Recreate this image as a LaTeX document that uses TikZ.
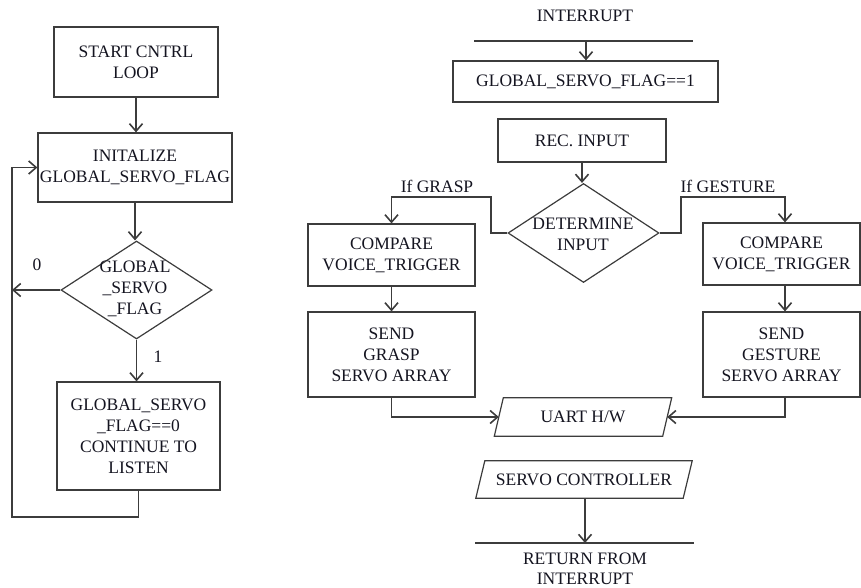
\documentclass[tikz,border=0pt]{standalone}
\usepackage{fontspec}
\setmainfont{Liberation Serif}
\usetikzlibrary{arrows.meta,shapes.geometric,calc}

\definecolor{edge}{HTML}{3C3C3C}
\definecolor{ink}{HTML}{141420}

\tikzset{
  base/.style={font=\fontsize{17.5}{21}\selectfont, text=ink, align=center, inner sep=0pt},
  stepbox/.style={base, draw=edge, line width=1.2pt, rectangle},
  decision/.style={draw=edge, line width=1.2pt, diamond, inner sep=0pt},
  iobox/.style={base, rectangle},
  lbl/.style={base},
  line/.style={draw=edge, line width=1.2pt},
  arr/.style={line, -{Straight Barb[length=7.5pt,width=13pt,line width=1.6pt]}},
}

\begin{document}
\begin{tikzpicture}[x=1pt,y=-1pt]
\useasboundingbox (0,0) rectangle (861,588);

% ---------- main control loop ----------
\node[stepbox, minimum width=164, minimum height=70] (start) at (136,62) {START CNTRL\\LOOP};
\node[stepbox, minimum width=194, minimum height=69] (init) at (135,167.5) {INITALIZE\\GLOBAL\_SERVO\_FLAG};
\node[decision, minimum width=151, minimum height=98] (d1) at (136.5,290) {};
\node[lbl] (d1t) at (135,289) {GLOBAL\\\_SERVO\\\_FLAG};
\node[stepbox, minimum width=163, minimum height=108] (cont) at (138.5,436) {GLOBAL\_SERVO\\\_FLAG==0\\CONTINUE TO\\LISTEN};
\node[lbl] (zero) at (37,265) {0};
\node[lbl] (one) at (158,357) {1};

\coordinate (lp) at (12,290);
\coordinate (lb) at (12,517);

\draw[arr] (start.south) -- (start.south |- init.north);
\draw[arr] (init.south) -- (init.south |- d1.north);
\draw[arr] (d1.south) -- (d1.south |- cont.north);
\draw[arr] (d1.west) -- (lp);
\draw[arr] (cont.south) |- (lb) |- (init.west);

% ---------- interrupt service routine ----------
\node[lbl] (intr) at (585,16) {INTERRUPT};
\coordinate (il) at (474,41);
\coordinate (ir) at (693,41);
\coordinate (ia) at (586,41);
\draw[line] (il) -- (ir);

\node[stepbox, minimum width=265, minimum height=41] (flag) at (585.5,81.5) {GLOBAL\_SERVO\_FLAG==1};
\draw[arr] (ia) -- (ia |- flag.north);

\node[stepbox, minimum width=168, minimum height=43] (rec) at (582,140.5) {REC. INPUT};
\node[decision, minimum width=151, minimum height=99] (d2) at (583.5,233) {};
\node[lbl] (d2t) at (583,234) {DETERMINE\\INPUT};
\draw[arr] (rec.south) -- (rec.south |- d2.north);

\node[stepbox, minimum width=167, minimum height=62] (cmpL) at (391.5,255) {COMPARE\\VOICE\_TRIGGER};
\node[stepbox, minimum width=167, minimum height=85] (sendL) at (391.5,354.5) {SEND\\GRASP\\SERVO ARRAY};
\node[stepbox, minimum width=157, minimum height=62] (cmpR) at (781.5,254) {COMPARE\\VOICE\_TRIGGER};
\node[stepbox, minimum width=157, minimum height=85] (sendR) at (781.5,354.5) {SEND\\GESTURE\\SERVO ARRAY};

\node[lbl] (ifg) at (437,186) {If GRASP};
\node[lbl] (ifs) at (728,186) {If GESTURE};

\coordinate (bl) at (491,197);
\coordinate (br) at (681,197);
\coordinate (rx) at (785,0);

\draw[arr] (d2.west) -| (bl) -| (cmpL.north);
\draw[arr] (d2.east) -| (br) -| (cmpR.north -| rx);
\draw[arr] (cmpL.south) -- (sendL.north);
\draw[arr] (cmpR.south -| rx) -- (sendR.north -| rx);

% slanted input/output boxes
\node[iobox, minimum width=168, minimum height=38] (uart) at (583,417) {UART H/W};
\draw[line] ($(uart.north west)+(4.5,0)$) -- ($(uart.north east)+(4.5,0)$)
  -- ($(uart.south east)+(-4.5,0)$) -- ($(uart.south west)+(-4.5,0)$) -- cycle;

\node[iobox, minimum width=207, minimum height=37] (sc) at (584,479.5) {SERVO CONTROLLER};
\draw[line] ($(sc.north west)+(4.5,0)$) -- ($(sc.north east)+(4.5,0)$)
  -- ($(sc.south east)+(-4.5,0)$) -- ($(sc.south west)+(-4.5,0)$) -- cycle;

\draw[arr] (sendL.south) |- (uart.west);
\draw[arr] (sendR.south -| rx) |- (uart.east);

\coordinate (rl) at (475,543);
\coordinate (rr) at (694,543);
\draw[line] (rl) -- (rr);
\draw[arr] (sc.south -| 585,0) -- (585,543);
\node[lbl, font=\fontsize{17.5}{20}\selectfont] (ret) at (585,569) {RETURN FROM\\INTERRUPT};

\end{tikzpicture}
\end{document}
